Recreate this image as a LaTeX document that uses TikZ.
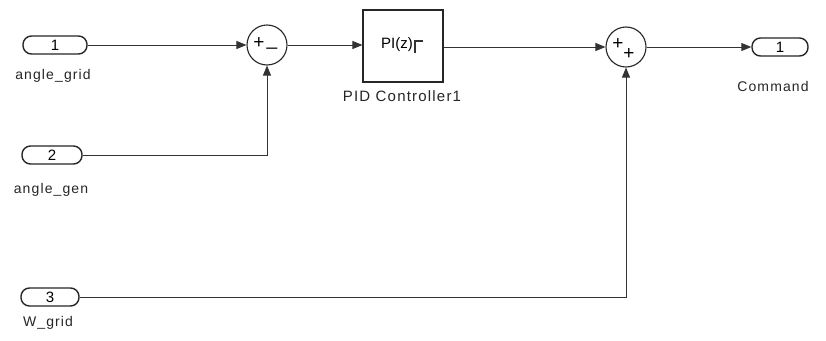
\documentclass[tikz,border=0pt]{standalone}
\usepackage{fontspec}
\setmainfont{Liberation Sans}
\newfontfamily\widefont[LetterSpace=8]{Liberation Sans}
\usetikzlibrary{arrows.meta}
\begin{document}
\begin{tikzpicture}[x=1pt,y=-1pt,
  wire/.style={draw=black!80,line width=1pt},
  arr/.style={wire,-{Triangle[length=10pt,width=8pt]}},
  port/.style={draw=black!85,line width=1.4pt,rounded corners=8.5pt,minimum width=62pt,minimum height=18pt,inner sep=0pt,font=\fontsize{15}{16}\selectfont},
  sumblk/.style={draw=black!85,line width=1.1pt,circle,minimum size=40pt,inner sep=0pt},
  sgn/.style={font=\fontsize{19}{19}\selectfont,inner sep=0pt},
  lbl/.style={font=\widefont\fontsize{14}{16}\selectfont,text=black!85,inner sep=0pt},
  blk/.style={draw=black!85,line width=1.1pt,minimum width=80pt,minimum height=72pt,inner sep=0pt}]
\useasboundingbox (0,0) rectangle (826,340);
\fill[white] (0,0) rectangle (826,340);
% inports
\node[port,minimum width=64pt] (in1) at (55,45) {1};
\node[lbl] (l1) at (53,76) {angle\_grid};
\node[port,minimum width=60pt] (in2) at (52,155) {2};
\node[lbl] (l2) at (51,190) {angle\_gen};
\node[port,minimum width=58pt] (in3) at (50,297) {3};
\node[lbl] (l3) at (48,323) {W\_grid};
% sum 1
\node[sumblk] (s1) at (267,45) {};
\node[sgn] (s1p) at (259,43) {+};
\node[sgn] (s1m) at (272,47) {\textunderscore};
% PID
\node[blk] (pid) at (403,46) {};
\node[font=\fontsize{15}{16}\selectfont,inner sep=0pt] (pidt) at (397,45) {PI(z)};
\draw[wire,line width=1.4pt] ([xshift=2pt]pidt.east |- 0,53) -- ++(0,-12) -- ++(8,0);
\node[lbl,font=\widefont\fontsize{15}{16}\selectfont] (pidl) at (402,96) {PID Controller1};
% sum 2
\node[sumblk] (s2) at (626,47) {};
\node[sgn] (s2p1) at (618,44) {+};
\node[sgn] (s2p2) at (629,54) {+};
% outport
\node[port,minimum width=56pt] (out1) at (780,47) {1};
\node[lbl,font=\widefont\fontsize{14}{16}\selectfont] (l4) at (773,86) {Command};
% wires
\draw[arr] (in1.east) -- (s1.west);
\draw[arr] (in2.east) -| (s1.south);
\draw[arr] (s1.east) -- (pid.west |- s1.east);
\draw[arr] (pid.east |- s2.west) -- (s2.west);
\draw[arr] (in3.east) -| (s2.south);
\draw[arr] (s2.east) -- (out1.west);
\end{tikzpicture}
\end{document}
